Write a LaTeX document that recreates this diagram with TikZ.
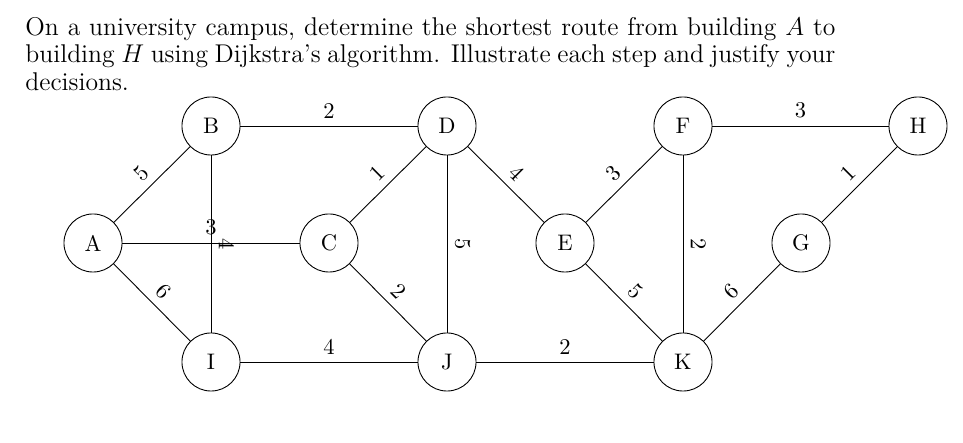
\documentclass[tikz,border=0pt]{standalone}
\begin{document}
\begin{tikzpicture}[x=0.4444pt,y=-0.4444pt,
  vtx/.style={draw,circle,minimum size=25.8pt,inner sep=0pt},
  wt/.style={midway,above,sloped}]
\useasboundingbox (0,0) rectangle (963,443);
\node[anchor=north west,inner sep=0pt,scale=0.95,transform shape,text width=378.9pt,align=justify,font=\fontsize{12}{12.85}\selectfont] (txt) at (25,17)
  {On a university campus, determine the shortest route from building $A$ to\linebreak building $H$ using Dijkstra's algorithm. Illustrate each step and justify your\linebreak decisions.};
\node[vtx] (A) at (93,243) {A};
\node[vtx] (B) at (211,126) {B};
\node[vtx] (C) at (329,243) {C};
\node[vtx] (D) at (447,126) {D};
\node[vtx] (E) at (565,243) {E};
\node[vtx] (F) at (683,126) {F};
\node[vtx] (G) at (801,243) {G};
\node[vtx] (H) at (918,126) {H};
\node[vtx] (I) at (211,362) {I};
\node[vtx] (J) at (447,362) {J};
\node[vtx] (K) at (683,362) {K};
\draw (A) -- (B) node[wt] {5};
\draw (A) -- (C) node[wt] {3};
\draw (A) -- (I) node[wt] {6};
\draw (B) -- (D) node[wt] {2};
\draw (B) -- (I) node[wt] {4};
\draw (C) -- (D) node[wt] {1};
\draw (C) -- (J) node[wt] {2};
\draw (D) -- (E) node[wt] {4};
\draw (D) -- (J) node[wt] {5};
\draw (I) -- (J) node[wt] {4};
\draw (E) -- (F) node[wt] {3};
\draw (E) -- (K) node[wt] {5};
\draw (F) -- (H) node[wt] {3};
\draw (F) -- (K) node[wt] {2};
\draw (J) -- (K) node[wt] {2};
\draw (K) -- (G) node[wt] {6};
\draw (G) -- (H) node[wt] {1};
\end{tikzpicture}
\end{document}
